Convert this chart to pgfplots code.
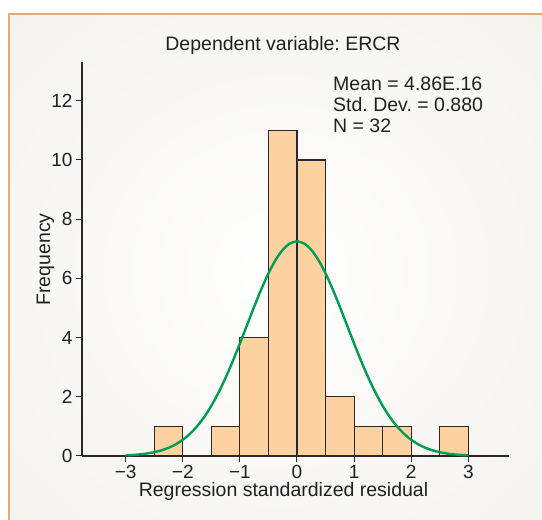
\documentclass[border=0pt]{standalone}
\usepackage{pgfplots}
\pgfplotsset{compat=1.18}
\usepackage{fontspec}
\setmainfont{Liberation Sans}
\frenchspacing
\definecolor{bgc}{RGB}{241,239,233}
\definecolor{framec}{RGB}{226,170,128}
\definecolor{barc}{RGB}{253,209,160}
\definecolor{edgec}{RGB}{45,40,40}
\definecolor{curvec}{RGB}{0,158,80}
\definecolor{txt}{RGB}{35,31,32}
\pgfdeclareradialshading{bgshade}{\pgfpoint{0bp}{0bp}}{color(0bp)=(white); color(18bp)=(white!55!bgc); color(50bp)=(bgc)}
\newcommand{\tfont}{\fontsize{19.5}{22}\selectfont}
\newcommand{\kfont}{\fontsize{19}{21}\selectfont}
\begin{document}
\begin{tikzpicture}[x=1pt,y=1pt]
\useasboundingbox (0,0) rectangle (542,520);
\fill[white] (0,0) rectangle (542,520);
\begin{scope}
\clip (0,0) rectangle (542,520);
\shade[shading=bgshade] (9,-10) rectangle (552,506);
\draw[framec, line width=1.2pt] (9,-10) rectangle (552,506);
\end{scope}
\begin{axis}[
  at={(82pt,64pt)}, anchor=south west, scale only axis,
  width=427pt, height=394pt,
  xmin=-3.765, xmax=3.713, ymin=0, ymax=13.31,
  axis lines=left,
  axis line style={-, line width=1.1pt, color=edgec},
  xtick={-3,-2,-1,0,1,2,3},
  xticklabels={−3,−2,−1,0,1,2,3},
  ytick={0,2,4,6,8,10,12},
  yticklabels={0,2,4,6,8,10,12},
  tick align=outside, major tick length=6pt,
  tick style={line width=1pt, color=edgec},
  xticklabel style={font=\kfont, text=txt},
  yticklabel style={font=\kfont, text=txt},
  clip=false,
]
\addplot[ybar, bar width=0.5, bar shift=0, fill=barc, draw=edgec, line width=1.1pt]
  coordinates {(-2.25,1) (-1.25,1) (-0.75,4) (-0.25,11) (0.25,10) (0.75,2) (1.25,1) (1.75,1) (2.75,1)};
\addplot[smooth, color=curvec, line width=2.4pt, mark=none] coordinates {
(-3,0.022) (-2.875,0.035) (-2.75,0.055) (-2.625,0.085) (-2.5,0.128) (-2.375,0.190) (-2.25,0.276) (-2.125,0.393)
(-2,0.548) (-1.875,0.749) (-1.75,1.004) (-1.625,1.318) (-1.5,1.696) (-1.375,2.139) (-1.25,2.644) (-1.125,3.202)
(-1,3.801) (-0.875,4.423) (-0.75,5.042) (-0.625,5.634) (-0.5,6.170) (-0.375,6.621) (-0.25,6.964) (-0.125,7.177)
(0,7.25) (0.125,7.177) (0.25,6.964) (0.375,6.621) (0.5,6.170) (0.625,5.634) (0.75,5.042) (0.875,4.423)
(1,3.801) (1.125,3.202) (1.25,2.644) (1.375,2.139) (1.5,1.696) (1.625,1.318) (1.75,1.004) (1.875,0.749)
(2,0.548) (2.125,0.393) (2.25,0.276) (2.375,0.190) (2.5,0.128) (2.625,0.085) (2.75,0.055) (2.875,0.035) (3,0.022)};
\end{axis}
\node[anchor=base, text=txt, font=\tfont] at (283,469) {Dependent variable: ERCR};
\node[anchor=base west, text=txt, font=\tfont, inner sep=0pt] at (333,429) {Mean = 4.86E.16};
\node[anchor=base west, text=txt, font=\tfont, inner sep=0pt] at (333,408) {Std. Dev. = 0.880};
\node[anchor=base west, text=txt, font=\tfont, inner sep=0pt] at (333,387) {N = 32};
\node[anchor=base, text=txt, font=\tfont] at (283.5,23) {Regression standardized residual};
\node[rotate=90, text=txt, font=\tfont] at (45.5,260.5) {Frequency};
\end{tikzpicture}
\end{document}
